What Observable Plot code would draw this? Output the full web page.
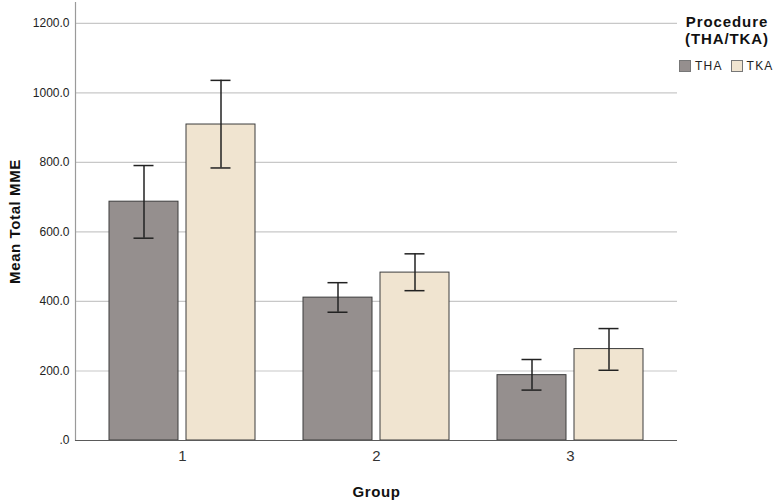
<!DOCTYPE html>
<html>
<head>
<meta charset="utf-8">
<script src="https://cdn.jsdelivr.net/npm/d3@7"></script>
<script src="https://cdn.jsdelivr.net/npm/@observablehq/plot@0.6"></script>
<style>
  html, body { margin: 0; padding: 0; background: #fff; }
  #wrap { position: relative; width: 778px; height: 503px; font-family: "Liberation Sans", Arial, sans-serif; }
  #legend { position: absolute; left: 679px; top: 13px; width: 99px; color: #111; }
  #legend .title { font-weight: bold; font-size: 15px; line-height: 17px; text-align: center; width: 96px; letter-spacing: 0.9px; }
  #legend .row { display: flex; align-items: center; margin-top: 12px; font-size: 12px; color: #222; letter-spacing: 1.2px; }
  #legend .sw { width: 10px; height: 10px; border: 1px solid #777; margin-right: 4px; }
  #legend .item { display: flex; align-items: center; margin-right: 8px; }
</style>
</head>
<body>
<div id="wrap"></div>
<script>
const groups = ["1", "2", "3"];
const procedures = ["THA", "TKA"];
const thaMean = [687, 411, 188];
const thaLow  = [582, 369, 145];
const thaHigh = [791, 454, 233];
const tkaMean = [909, 483, 263];
const tkaLow  = [784, 431, 202];
const tkaHigh = [1036, 537, 322];
const yTicks = [0, 200, 400, 600, 800, 1000, 1200];
const colors = ["#958f8e", "#f0e4d0"];

const tha = groups.map((g, i) => ({group: g, procedure: "THA", mean: thaMean[i], low: thaLow[i], high: thaHigh[i]}));
const tka = groups.map((g, i) => ({group: g, procedure: "TKA", mean: tkaMean[i], low: tkaLow[i], high: tkaHigh[i]}));

const chart = Plot.plot({
  width: 778,
  height: 503,
  marginLeft: 75,
  marginRight: 101,
  marginTop: 2,
  marginBottom: 63,
  style: {fontFamily: "'Liberation Sans', Arial, sans-serif", fontSize: "12px", color: "#222", background: "#fff"},
  x: {type: "band", domain: groups, paddingInner: 0.247, paddingOuter: 0.174},
  y: {domain: [0, 1260]},
  marks: [
    Plot.ruleY(yTicks.filter(d => d > 0), {stroke: "#c8c8c8", strokeWidth: 1.2}),
    Plot.axisX({tickSize: 0, tickPadding: 10, fontSize: 15, color: "#333", label: "Group", labelAnchor: "center", labelOffset: 56, labelArrow: "none"}),
    Plot.axisY({ticks: yTicks, tickFormat: d => d === 0 ? ".0" : d.toFixed(1), tickSize: 0, tickPadding: 6, fontSize: 12, color: "#222", label: "Mean Total MME", labelArrow: "none", labelAnchor: "center", labelOffset: 66}),
    Plot.barY(tha, {x: "group", y: "mean", fill: colors[0], stroke: "#3c3c3c", strokeWidth: 1, insetRight: 77}),
    Plot.barY(tka, {x: "group", y: "mean", fill: colors[1], stroke: "#3c3c3c", strokeWidth: 1, insetLeft: 77}),
    Plot.ruleX(tha, {x: "group", y1: "low", y2: "high", dx: -38.5, stroke: "#222", strokeWidth: 1.5}),
    Plot.ruleX(tka, {x: "group", y1: "low", y2: "high", dx: 38.5, stroke: "#222", strokeWidth: 1.5}),
    Plot.tickY(tha, {x: "group", y: "low", insetLeft: 24.5, insetRight: 101.5, stroke: "#222", strokeWidth: 1.5}),
    Plot.tickY(tha, {x: "group", y: "high", insetLeft: 24.5, insetRight: 101.5, stroke: "#222", strokeWidth: 1.5}),
    Plot.tickY(tka, {x: "group", y: "low", insetLeft: 101.5, insetRight: 24.5, stroke: "#222", strokeWidth: 1.5}),
    Plot.tickY(tka, {x: "group", y: "high", insetLeft: 101.5, insetRight: 24.5, stroke: "#222", strokeWidth: 1.5}),
    Plot.frame({anchor: "left", stroke: "#9a9a9a", strokeWidth: 1.2}),
    Plot.ruleY([0], {stroke: "#5a5a5a", strokeWidth: 1.2})
  ]
});

const svg = d3.select(chart);
svg.selectAll('g[aria-label="x-axis tick label"] text').style("font-size", "15px").style("fill", "#333");
svg.selectAll('g[aria-label="x-axis label"] text, g[aria-label="y-axis label"] text')
  .style("font-size", "15px").style("font-weight", "bold").style("fill", "#111").style("letter-spacing", "0.6px");

const wrap = document.getElementById("wrap");
wrap.appendChild(chart);

const legend = document.createElement("div");
legend.id = "legend";
legend.innerHTML = `<div class="title">Procedure<br>(THA/TKA)</div>` +
  `<div class="row">` + procedures.map((p, i) =>
    `<span class="item"><span class="sw" style="background:${colors[i]}"></span>${p}</span>`).join("") + `</div>`;
wrap.appendChild(legend);
</script>
</body>
</html>
